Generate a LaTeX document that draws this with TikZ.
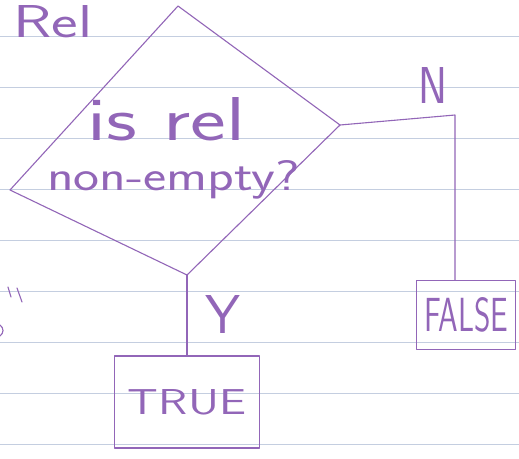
\documentclass[tikz,border=0pt]{standalone}
\usepackage{fontspec}
\setsansfont{lmsans17-regular.otf}
\usepackage{graphicx}
\definecolor{ink}{RGB}{146,102,184}
\definecolor{rule}{RGB}{196,206,224}
\tikzset{
  pen/.style={draw=ink, line width=1.1pt, line cap=round, line join=round},
  hand/.style={text=ink, inner sep=0pt, font=\sffamily},
  label/.style={hand, anchor=base west},
  outbox/.style={pen, rectangle, inner sep=0pt, text=ink, font=\sffamily},
  ruling/.style={draw=rule, line width=0.8pt}
}
% #1 width, #2 height (pt), #3 design size, #4 text
\newcommand{\fit}[4]{\resizebox{#1pt}{#2pt}{\fontsize{#3}{#3}\selectfont #4}}
\begin{document}
\begin{tikzpicture}[x=1pt, y=-1pt]
  % paper
  \fill[white] (0,0) rectangle (519,458);
  \useasboundingbox (0,0) rectangle (519,458);
  \foreach \k in {0,...,8}
    \draw[ruling] (0,36+51*\k) -- (519,36+51*\k);

  % title
  \node[label] (title) at (13,37) {\fit{79}{32}{46}{Rel}};

  % decision diamond
  \coordinate (dT) at (178,6);
  \coordinate (dR) at (340,125);
  \coordinate (dB) at (187,275);
  \coordinate (dL) at (10,190);
  \draw[pen] (dT) -- (dR) -- (dB) -- (dL) -- cycle;
  \node[label] (q1) at (87,140) {\fit{158}{43}{62}{is rel}};
  \node[label] (q2) at (47,190) {\fit{253}{30}{43}{non-empty?}};

  % outcomes
  \node[outbox, minimum width=145pt, minimum height=92pt] (tbox) at (187,402)
    {\fit{118}{25}{36}{TRUE}};
  \node[outbox, minimum width=99pt, minimum height=69pt] (fbox) at (466,315)
    {\fit{84}{34}{49}{FALSE}};

  % branches
  \coordinate (nc) at (455,115);
  \draw[pen] (dB) -- (tbox.north);
  \draw[pen] (dR) -- (nc) -- (nc |- fbox.north);
  \node[label] (ylab) at (205,333) {\fit{35}{38}{55}{Y}};
  \node[label] (nlab) at (418,103) {\fit{29}{36}{52}{N}};

  % stray marks at the left edge
  \draw[pen] (8,287) -- (11,297);
  \draw[pen] (17,288) -- (22,302);
  \draw[pen] (0,325) .. controls (4,328) and (4,333) .. (0,336);
\end{tikzpicture}
\end{document}
